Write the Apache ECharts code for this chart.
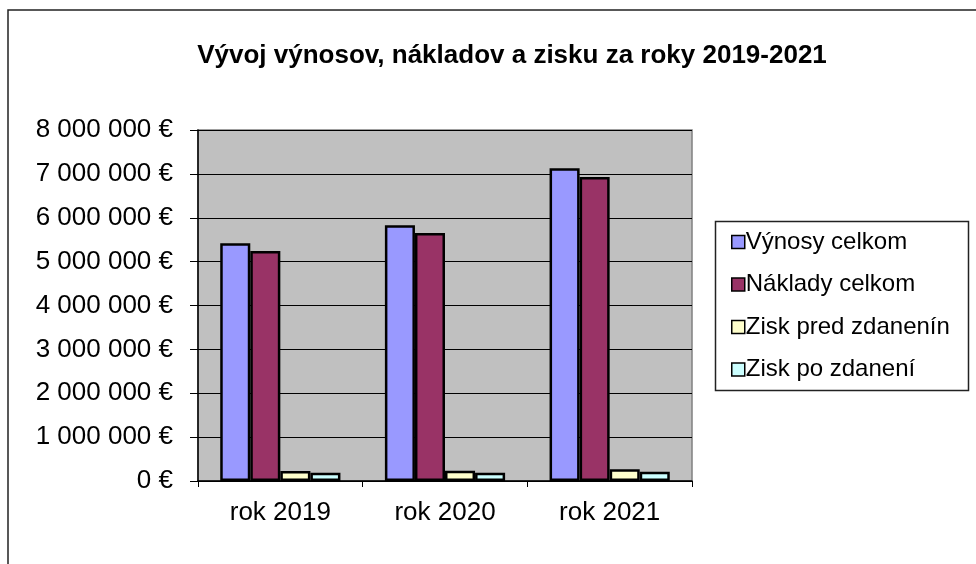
<!DOCTYPE html>
<html>
<head>
<meta charset="utf-8">
<script src="https://cdn.jsdelivr.net/npm/echarts@6/dist/echarts.min.js"></script>
<style>html,body{margin:0;padding:0;background:#fff}#c{width:976px;height:564px}</style>
</head>
<body>
<div id="c"></div>
<script>
const categories = ['rok 2019', 'rok 2020', 'rok 2021'];
const seriesNames = ['Výnosy celkom', 'Náklady celkom', 'Zisk pred zdanenín', 'Zisk po zdanení'];
const vynosy = [5420000, 5830000, 7130000];
const naklady = [5240000, 5650000, 6930000];
const ziskPred = [230000, 235000, 270000];
const ziskPo = [190000, 190000, 210000];
const colors = ['#9999ff', '#993366', '#ffffcc', '#ccffff'];
const titleText = 'Vývoj výnosov, nákladov a zisku za roky 2019-2021';

const chart = echarts.init(document.getElementById('c'), null, {renderer: 'canvas'});
const font = '"Liberation Sans", Arial, sans-serif';
const dataSets = [vynosy, naklady, ziskPred, ziskPo];

function fmt(v) {
  const s = String(Math.round(v));
  return s.replace(/\B(?=(\d{3})+(?!\d))/g, ' ') + ' €';
}

chart.setOption({
  animation: false,
  backgroundColor: '#fff',
  textStyle: {fontFamily: font},
  graphic: [
    {type: 'rect', shape: {x: 8, y: 10, width: 1000, height: 600}, style: {fill: 'none', stroke: '#222', lineWidth: 1.5}, z: 0},
    {type: 'rect', shape: {x: 715.5, y: 221.5, width: 253, height: 169}, style: {fill: '#fff', stroke: '#222', lineWidth: 1.5}, z: 1}
  ],
  title: {
    text: titleText,
    left: 507, top: 38, textAlign: 'center',
    textStyle: {fontFamily: font, fontWeight: 'bold', fontSize: 26, color: '#000'}
  },
  legend: {
    orient: 'vertical',
    left: 731, top: 228,
    itemWidth: 13, itemHeight: 13, itemGap: 14.5,
    icon: 'rect',
    padding: 0,
    itemStyle: {borderColor: '#000', borderWidth: 1.5},
    textStyle: {fontFamily: font, fontSize: 24, color: '#000', lineHeight: 28, padding: [0, 0, 0, -4]},
    z: 5
  },
  grid: {
    left: 198, top: 130, right: 284, bottom: 83,
    show: true, backgroundColor: '#c0c0c0', borderColor: '#808080', borderWidth: 1.5
  },
  xAxis: {
    type: 'category',
    data: categories,
    axisLine: {lineStyle: {color: '#000', width: 1.5}},
    axisTick: {show: true, length: 6, lineStyle: {color: '#000'}},
    axisLabel: {fontFamily: font, fontSize: 26, color: '#000', margin: 19}
  },
  yAxis: {
    type: 'value',
    min: 0, max: 8000000, interval: 1000000,
    axisLine: {show: true, lineStyle: {color: '#000', width: 1.5}},
    axisTick: {show: true, length: 8, lineStyle: {color: '#000'}},
    splitLine: {lineStyle: {color: '#000', width: 1}},
    axisLabel: {fontFamily: font, fontSize: 26, color: '#000', margin: 25, formatter: fmt}
  },
  series: seriesNames.map((n, i) => ({
    name: n,
    type: 'bar',
    data: dataSets[i],
    barGap: '0%',
    barCategoryGap: '27%',
    itemStyle: {color: colors[i], borderColor: '#000', borderWidth: 2.5}
  }))
});
</script>
</body>
</html>
